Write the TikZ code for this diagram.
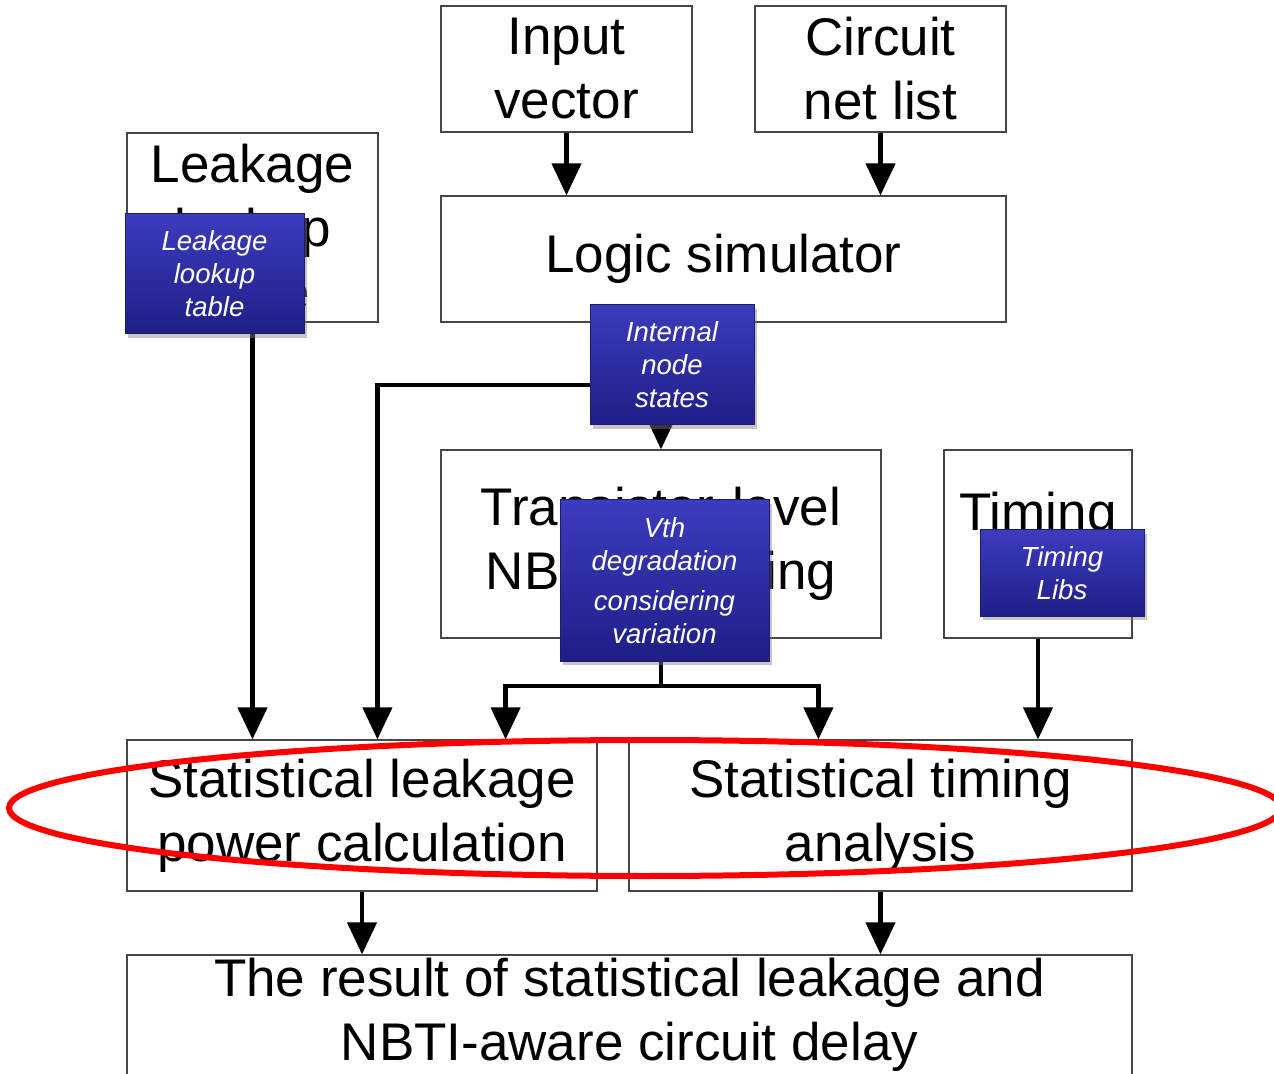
\documentclass[tikz,border=0pt]{standalone}
\usepackage{fontspec}
\setmainfont{Liberation Sans}
\usetikzlibrary{arrows.meta,shadows,calc}
\definecolor{bluetop}{RGB}{60,60,190}
\definecolor{bluemid}{RGB}{42,42,165}
\definecolor{bluebot}{RGB}{30,30,135}
\definecolor{blueedge}{RGB}{28,28,110}
\definecolor{boxedge}{RGB}{70,70,70}
\begin{document}
\begin{tikzpicture}[x=0.5pt,y=-0.5pt,
  wbox/.style={rectangle, draw=boxedge, line width=0.6pt, fill=white, align=center,
    inner sep=0pt, font=\fontsize{26.5}{32}\selectfont},
  bbox/.style={rectangle, draw=blueedge, line width=0.5pt, top color=bluetop,
    middle color=bluemid, bottom color=bluebot, text=white, align=center, inner sep=0pt,
    font=\fontsize{13.8}{16.5}\selectfont\itshape,
    drop shadow={opacity=0.45, shadow xshift=1.5pt, shadow yshift=-2pt}},
  conn/.style={line width=2.2pt},
  arr/.style={conn, -{Triangle[length=16pt,width=14.5pt]}}]
\useasboundingbox (0,0) rectangle (1274,1074);
\clip (0,0) rectangle (1274,1074);
\fill[white] (0,0) rectangle (1274,1074);

% white boxes
\node[wbox, minimum width=125.5pt, minimum height=63pt] (inp) at (566.5,69) {Input\\vector};
\node[wbox, minimum width=125.5pt, minimum height=63pt] (net) at (880.5,69) {Circuit\\net list};
\node[wbox, minimum width=282.5pt, minimum height=63pt] (logic) at (723.5,259) {Logic simulator};
\node[wbox, minimum width=125.5pt, minimum height=94.5pt] (leak) at (252.5,227.5) {Leakage\\lookup\\table};
\node[wbox, minimum width=220pt, minimum height=94pt] (trans) at (661,544) {Transistor-level\\NBTI modeling};
\node[wbox, minimum width=94pt, minimum height=94pt] (timing) at (1038,544) {Timing\\\phantom{Libs}};
\node[wbox, minimum width=235pt, minimum height=75.5pt] (sl) at (362,815.5) {Statistical leakage\\power calculation};
\node[wbox, minimum width=251.5pt, minimum height=75.5pt] (st) at (880.5,815.5) {Statistical timing\\analysis};
\node[wbox, minimum width=502.5pt, minimum height=60pt] (res) at (629.5,1015) {The result of statistical leakage and\\NBTI-aware circuit delay};

% connectors
\draw[arr] (inp.south) -- (inp.south |- logic.north);
\draw[arr] (net.south) -- (net.south |- logic.north);
\draw[arr] (trans.north |- logic.south) -- (trans.north);
\draw[arr] (leak.south) -- (leak.south |- sl.north);
\coordinate (c1) at (661,385);
\draw[arr] (c1) -| ($(sl.north west)+(251,0)$);
\coordinate (v1) at (661,686);
\draw[conn] (trans.south) -- (v1);
\draw[arr] (v1) -| ($(sl.north east)+(-92,0)$);
\draw[arr] (v1) -| ($(st.north west)+(190,0)$);
\draw[arr] (timing.south) -- (timing.south |- st.north);
\draw[arr] (sl.south) -- (sl.south |- res.north);
\draw[arr] (st.south) -- (st.south |- res.north);

% blue labels
\node[bbox, minimum width=89.5pt, minimum height=60pt] (bl) at (214.5,274) {Leakage\\lookup\\table};
\node[bbox, minimum width=82pt, minimum height=60pt] (bi) at (672,365) {Internal\\node\\states};
\node[bbox, minimum width=104.5pt, minimum height=80.5pt] (bv) at (664.5,580.5) {Vth\\degradation\\[3.5pt]considering\\variation};
\node[bbox, minimum width=82pt, minimum height=43pt] (bt) at (1062,573) {Timing\\Libs};

% red ellipse
\draw[red, line width=3pt] (645,808) ellipse [x radius=636, y radius=68];
\end{tikzpicture}
\end{document}
